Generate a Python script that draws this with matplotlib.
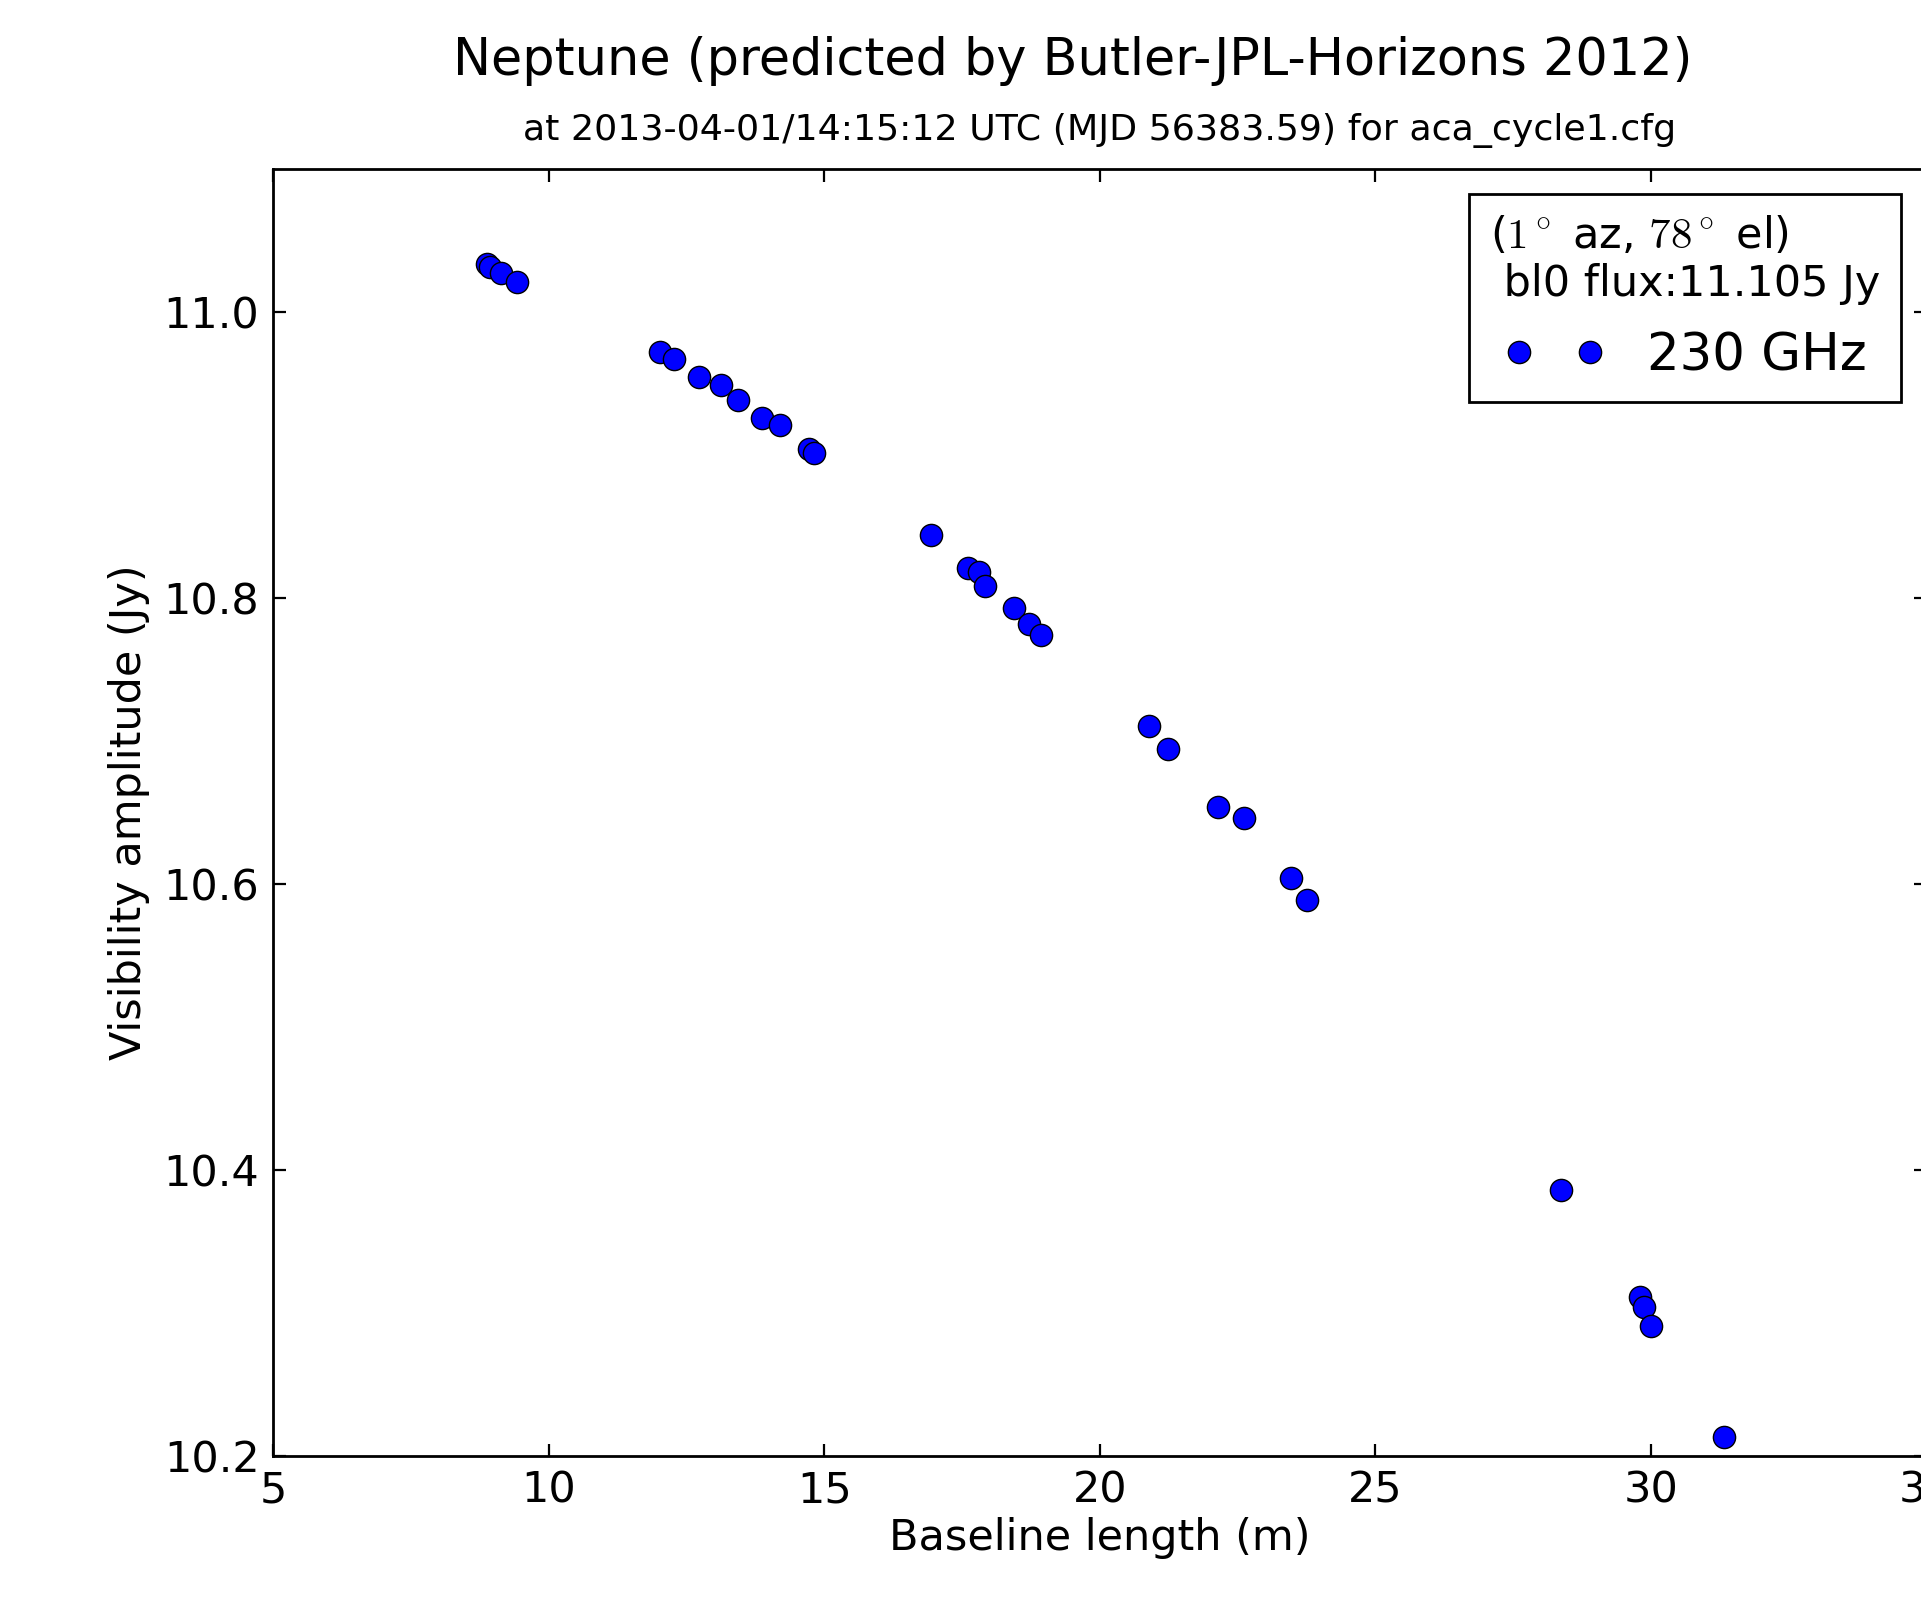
import matplotlib
matplotlib.use("Agg")
import matplotlib.pyplot as plt
from matplotlib.font_manager import FontProperties

# Data
baseline_m = [8.87, 8.93, 9.13, 9.42, 12.02, 12.27, 12.73, 13.13, 13.44, 13.87,
              14.20, 14.73, 14.82, 16.93, 17.60, 17.80, 17.91, 18.44, 18.71, 18.93,
              20.90, 21.23, 22.14, 22.61, 23.47, 23.76, 28.36, 29.81, 29.88, 30.00,
              31.33]
amplitude_jy = [11.033, 11.031, 11.027, 11.021, 10.972, 10.967, 10.954, 10.949, 10.938, 10.926,
                10.921, 10.904, 10.901, 10.844, 10.821, 10.818, 10.808, 10.793, 10.782, 10.774,
                10.710, 10.694, 10.654, 10.646, 10.604, 10.589, 10.386, 10.311, 10.304, 10.291,
                10.213]
series_label = "230 GHz"
xticks = [5, 10, 15, 20, 25, 30, 35]
yticks = [10.2, 10.4, 10.6, 10.8, 11.0]

title = "Neptune (predicted by Butler-JPL-Horizons 2012)"
subtitle = "at 2013-04-01/14:15:12 UTC (MJD 56383.59) for aca_cycle1.cfg"
legend_title = "($1^\\circ$ az, $78^\\circ$ el)\n bl0 flux:11.105 Jy"

plt.rcParams['font.family'] = ['DejaVu Sans']

fig = plt.figure(figsize=(9.605, 7.985), dpi=200)
ax = fig.add_axes([0.1423, 0.0883, 0.8605, 0.8061])

ax.plot(baseline_m, amplitude_jy, 'o', color='#0000ff', markeredgecolor='black',
        markeredgewidth=0.5, markersize=8, linestyle='none', label=series_label)

ax.set_xlim(5, 35)
ax.set_ylim(10.2, 11.1)
ax.set_xticks(xticks)
ax.set_yticks(yticks)
ax.set_yticklabels([f"{v:.1f}" for v in yticks])
ax.tick_params(direction='in', top=True, right=True, length=4.5, width=0.8,
               labelsize=15.5, pad=5, colors='black')
for s in ax.spines.values():
    s.set_linewidth(1.0)

ax.set_xlabel("Baseline length (m)", fontsize=15.5, labelpad=2)
ax.set_ylabel("Visibility amplitude (Jy)", fontsize=15.5, labelpad=5)

fig.text(0.5586, 1 - 61 / 1597, title, fontsize=18.3, ha='center', va='center')
fig.text(0.5725, 1 - 131 / 1597, subtitle, fontsize=13.1, ha='center', va='center')

tfp = FontProperties(family='DejaVu Sans', size=15.5, math_fontfamily='cm')
leg = ax.legend(loc='upper right', numpoints=2, fontsize=18.5, title=legend_title,
                title_fontproperties=tfp, fancybox=False, framealpha=1,
                edgecolor='black', alignment='center', borderpad=0.4,
                handletextpad=0.8, borderaxespad=0.5)
leg.get_frame().set_linewidth(1.0)

fig.savefig("out.png", dpi=200)
